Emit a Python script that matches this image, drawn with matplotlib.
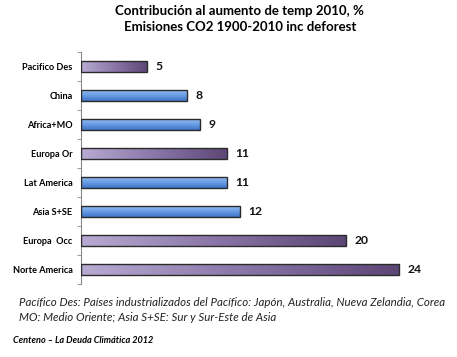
import numpy as np
import matplotlib.pyplot as plt
from matplotlib.colors import LinearSegmentedColormap

regions = ["Pacifico Des", "China", "Africa+MO", "Europa Or",
           "Lat America", "Asia S+SE", "Europa  Occ", "Norte America"]
values = [5, 8, 9, 11, 11, 12, 20, 24]
styles = ["purple", "blue", "blue", "purple", "blue", "blue", "purple", "purple"]

title = "Contribución al aumento de temp 2010, %\nEmisiones CO2 1900-2010 inc deforest"
note = ("Pacífico Des: Países industrializados del Pacífico: Japón, Australia, Nueva Zelandia, Corea\n"
        "MO: Medio Oriente; Asia S+SE: Sur y Sur-Este de Asia")
source = "Centeno – La Deuda Climática 2012"

plt.rcParams["font.family"] = ["Lato", "DejaVu Sans"]

purple_cmap = LinearSegmentedColormap.from_list("pur", ["#b8abd3", "#8a76a8", "#5b4675"])
blue_cmap = LinearSegmentedColormap.from_list("blu", ["#9cc3f3", "#6b9ee6", "#3f74c8"])

fig = plt.figure(figsize=(4.57, 3.57), dpi=100)
ax = fig.add_axes([0.177, 0.204, 0.79, 0.65])

xmax = 27.2
h = 0.4
for i, (v, s) in enumerate(zip(values, styles)):
    bar = ax.barh(i, v, height=h, color="none", edgecolor="#2b2b2b", linewidth=1.0, zorder=3)[0]
    if s == "purple":
        grad = np.linspace(0, 1, 256).reshape(1, -1)
        cmap = purple_cmap
    else:
        grad = np.linspace(0, 1, 64).reshape(-1, 1)
        cmap = blue_cmap
    im = ax.imshow(grad, cmap=cmap, aspect="auto", extent=(0, v, i + h / 2, i - h / 2),
                   origin="upper", zorder=2)
    im.set_clip_path(bar)
    ax.text(v + 0.6, i, str(v), va="center", ha="left", fontsize=8.7, fontweight="bold", color="#111111")

ax.set_xlim(0, xmax)
ax.set_ylim(len(regions) - 0.5, -0.5)

ax.set_yticks(range(len(regions)))
ax.set_yticklabels(regions, fontsize=6.6, fontweight="bold")
ax.tick_params(axis="y", which="major", length=0, pad=6)
ax.set_yticks(np.arange(-0.5, len(regions), 1), minor=True)
ax.tick_params(axis="y", which="minor", length=3, color="#888888")
ax.set_xticks([])
for side in ["top", "right", "bottom"]:
    ax.spines[side].set_visible(False)
ax.spines["left"].set_color("#888888")

fig.text(0.525, 0.985, title, ha="center", va="top", fontsize=9.5, fontweight="bold",
         linespacing=1.35)
fig.text(0.042, 0.168, note, ha="left", va="top", fontsize=8.3, style="italic",
         linespacing=1.45, color="#222222")
fig.text(0.028, 0.047, source, ha="left", va="center", fontsize=6.6, style="italic",
         fontweight="bold")

fig.savefig("out.png", dpi=100)
